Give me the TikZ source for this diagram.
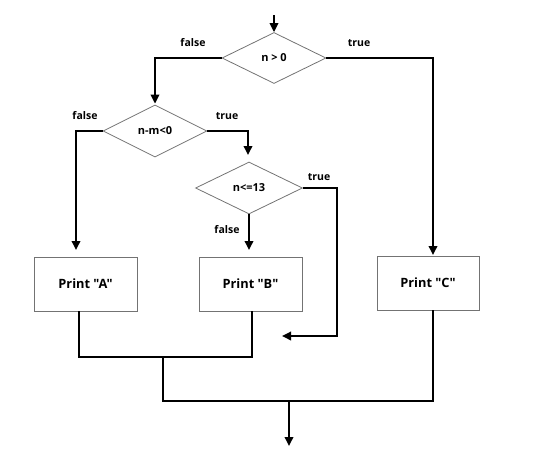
\documentclass[tikz,border=0pt]{standalone}
\usepackage{fontspec}
\setmainfont{Open Sans}[Ligatures=TeXOff]
\usetikzlibrary{shapes.geometric,arrows.meta,calc}
\tikzset{
  dec/.style={diamond, draw=black!55, line width=0.8pt, inner sep=0pt, aspect=2,
    font=\bfseries\fontsize{11}{13}\selectfont},
  pbox/.style={rectangle, draw=black!55, line width=0.8pt, inner sep=0pt,
    minimum width=103pt, minimum height=54pt, font=\bfseries\fontsize{12.8}{14}\selectfont},
  conn/.style={line width=1.8pt, draw=black},
  arr/.style={conn, -{Triangle[length=9pt,width=8.5pt]}},
  lbl/.style={font=\bfseries\fontsize{10.5}{12}\selectfont, inner sep=0pt}
}
\begin{document}
\begin{tikzpicture}[x=1pt,y=-1pt]
\useasboundingbox (0,0) rectangle (552,459);
% decisions
\node[dec, minimum width=104pt, minimum height=51pt] (d1) at (274,58) {n > 0};
\node[dec, minimum width=104pt, minimum height=52pt] (d2) at (155,131) {n-m<0};
\node[dec, minimum width=107pt, minimum height=52pt] (d3) at (249,188) {n<=13};
% boxes
\node[pbox] (A) at (85.5,284) {Print "A"};
\node[pbox] (B) at (250.5,284) {Print "B"};
\node[pbox, minimum width=102pt] (C) at (428,283) {Print "C"};
% labels
\node[lbl] (l1) at (193,43) {false};
\node[lbl] (l2) at (359,43) {true};
\node[lbl] (l3) at (85,116) {false};
\node[lbl] (l4) at (227,116) {true};
\node[lbl] (l5) at (319,177) {true};
\node[lbl] (l6) at (227,230) {false};
% coordinates
\coordinate (s0) at (274,15);
\coordinate (ca) at (76,250);
\coordinate (cd3) at (248,155);
\coordinate (cb) at (249,250);
\coordinate (cc) at (433,255);
\coordinate (t1) at (337,336);
\coordinate (t2) at (282,336);
\coordinate (m1) at (79,357);
\coordinate (m2) at (252,357);
\coordinate (m3) at (163,357);
\coordinate (n1) at (163,401);
\coordinate (n2) at (433,401);
\coordinate (n3) at (289,401);
\coordinate (endp) at (289,446);
% connectors
\draw[arr] (s0) -- (d1.north);
\draw[arr] (d1.west) -| ($(d2.north)+(0,-1)$);
\draw[arr] (d1.east) -| (cc);
\draw[arr] (d2.west) -| (ca);
\draw[arr] (d2.east) -| (cd3);
\draw[arr] (d3.south) -- (cb);
\draw[arr] (d3.east) -| (t1) -- (t2);
\draw[conn] (A.south -| m1) -- (m1) -- (m2) -- (B.south -| m2);
\draw[conn] (m3) -- (n1) -- (n2) -- (C.south -| n2);
\draw[arr] (n3) -- (endp);
\end{tikzpicture}
\end{document}
